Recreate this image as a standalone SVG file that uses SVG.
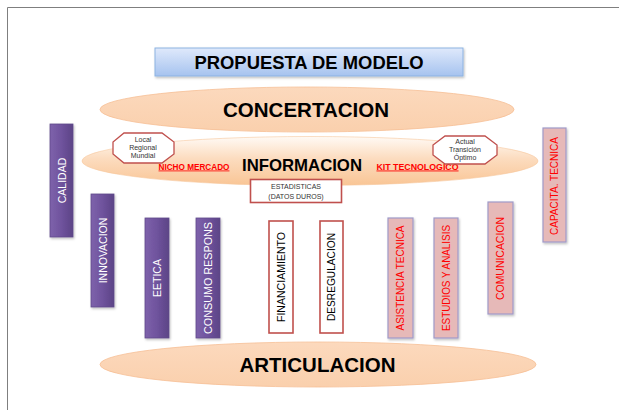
<svg xmlns="http://www.w3.org/2000/svg" width="619" height="410" viewBox="0 0 619 410">
  <defs>
    <linearGradient id="gTitle" x1="0" y1="0" x2="0" y2="1">
      <stop offset="0" stop-color="#dfe9fb"/>
      <stop offset="1" stop-color="#a6c3ef"/>
    </linearGradient>
    <linearGradient id="gPeach" x1="0" y1="0" x2="0" y2="1">
      <stop offset="0" stop-color="#fcd9bd"/>
      <stop offset="1" stop-color="#fad0ad"/>
    </linearGradient>
    <linearGradient id="gInfo" x1="0" y1="0" x2="0" y2="1">
      <stop offset="0" stop-color="#fffaf5"/>
      <stop offset="0.45" stop-color="#fcdcbf"/>
      <stop offset="1" stop-color="#f9c595"/>
    </linearGradient>
    <linearGradient id="gPurple" x1="0" y1="0" x2="1" y2="0">
      <stop offset="0" stop-color="#7e62ab"/>
      <stop offset="0.5" stop-color="#6f539d"/>
      <stop offset="1" stop-color="#5c4486"/>
    </linearGradient>
    <filter id="sh" x="-20%" y="-20%" width="140%" height="140%">
      <feDropShadow dx="1" dy="1.5" stdDeviation="1" flood-color="#000" flood-opacity="0.25"/>
    </filter>
  </defs>
  <style>
    .big { font-family: "Liberation Sans", Arial, sans-serif; font-weight: bold; fill: #000; text-anchor: middle; }
    .purple rect { fill: url(#gPurple); stroke: #5f4a8b; stroke-width: 0.8; filter: url(#sh); }
    .purple text { font-family: "Liberation Sans", Arial, sans-serif; font-size: 10.5px; fill: #ffffff; text-anchor: middle; }
    .white rect { fill: #ffffff; stroke: #c0504d; stroke-width: 1.6; }
    .white text { font-family: "Liberation Sans", Arial, sans-serif; font-size: 10.5px; fill: #000; text-anchor: middle; }
    .pink rect { fill: #e6b9b8; stroke: #a09ac8; stroke-width: 1.2; filter: url(#sh); }
    .pink text { font-family: "Liberation Sans", Arial, sans-serif; font-size: 10px; fill: #ff0000; text-anchor: middle; }
    .oct polygon { fill: #ffffff; stroke: #c0504d; stroke-width: 1.3; }
    .oct text { font-family: "Liberation Sans", Arial, sans-serif; font-size: 7px; fill: #333; text-anchor: middle; }
    .red { font-family: "Liberation Sans", Arial, sans-serif; font-weight: bold; fill: #ff0000; text-decoration: underline; text-anchor: middle; }
    .small { font-family: "Liberation Sans", Arial, sans-serif; font-size: 7px; fill: #333; text-anchor: middle; }
  </style>

  <rect x="0" y="0" width="619" height="410" fill="#ffffff"/>
  <!-- slide frame -->
  <path d="M7.5 410 V7.5 H619" fill="none" stroke="#7f7f7f" stroke-width="1"/>

  <g id="connectors"></g>

  <g id="title">
    <rect x="155" y="48" width="308" height="28" fill="url(#gTitle)" stroke="#8db3e2" stroke-width="1" filter="url(#sh)"/>
    <text class="big" x="309" y="68.5" font-size="17.5" textLength="229" lengthAdjust="spacingAndGlyphs">PROPUESTA DE MODELO</text>
  </g>

  <g id="concertacion">
    <ellipse cx="307" cy="109.5" rx="207" ry="22.5" fill="url(#gPeach)" stroke="#f6bf95" stroke-width="0.8"/>
    <text class="big" x="306" y="117" font-size="20.5">CONCERTACION</text>
  </g>

  <g id="informacion">
    <ellipse cx="310" cy="161" rx="228" ry="24.5" fill="url(#gInfo)" stroke="#f7c79e" stroke-width="0.6"/>
    <text class="big" x="302" y="170.5" font-size="16.5" textLength="120" lengthAdjust="spacingAndGlyphs">INFORMACION</text>
  </g>

  <g id="nicho-mercado">
    <text class="red" x="194" y="169.5" font-size="8.2">NICHO MERCADO</text>
  </g>
  <g id="kit-tecnologico">
    <text class="red" x="417.5" y="169.5" font-size="8.8">KIT TECNOLOGICO</text>
  </g>

  <g id="oct-local" class="oct">
    <polygon points="124,133 162,133 174,142 174,154 162,163 124,163 113,154 113,142"/>
    <text x="143" y="141.5">Local</text>
    <text x="143" y="149.5">Regional</text>
    <text x="143" y="157.5">Mundial</text>
  </g>

  <g id="oct-actual" class="oct">
    <polygon points="445,136 485,136 497,145 497,155 485,164 445,164 433,155 433,145"/>
    <text x="465" y="144">Actual</text>
    <text x="465" y="152">Transición</text>
    <text x="465" y="160">Óptimo</text>
  </g>

  <g id="estadisticas">
    <rect x="250.5" y="179.5" width="91" height="23" fill="#ffffff" stroke="#c0504d" stroke-width="1.6"/>
    <text class="small" x="296" y="189">ESTADISTICAS</text>
    <text class="small" x="296" y="198.5">(DATOS DUROS)</text>
  </g>

  <g id="calidad" class="purple">
    <rect x="50" y="124" width="23" height="113"/>
    <text transform="translate(65.5 180.5) rotate(-90)">CALIDAD</text>
  </g>
  <g id="innovacion" class="purple">
    <rect x="91" y="194" width="23" height="113"/>
    <text transform="translate(106.5 250.5) rotate(-90)">INNOVACION</text>
  </g>
  <g id="eetica" class="purple">
    <rect x="145" y="218" width="24" height="120"/>
    <text transform="translate(160.5 278) rotate(-90)">EETICA</text>
  </g>
  <g id="consumo-respons" class="purple">
    <rect x="196" y="218" width="24" height="120"/>
    <text transform="translate(211.5 278) rotate(-90)" textLength="112" lengthAdjust="spacingAndGlyphs">CONSUMO RESPONS</text>
  </g>

  <g id="financiamiento" class="white">
    <rect x="269" y="221" width="24" height="112"/>
    <text transform="translate(284.5 277) rotate(-90)" textLength="90" lengthAdjust="spacingAndGlyphs">FINANCIAMIENTO</text>
  </g>
  <g id="desregulacion" class="white">
    <rect x="320" y="221" width="23" height="112"/>
    <text transform="translate(335 277) rotate(-90)" textLength="88" lengthAdjust="spacingAndGlyphs">DESREGULACION</text>
  </g>

  <g id="asistencia-tecnica" class="pink">
    <rect x="388" y="218" width="25" height="120"/>
    <text transform="translate(404 278) rotate(-90)" textLength="105" lengthAdjust="spacingAndGlyphs">ASISTENCIA TECNICA</text>
  </g>
  <g id="estudios-analisis" class="pink">
    <rect x="434" y="218" width="24" height="120"/>
    <text transform="translate(449.5 278) rotate(-90)" textLength="106" lengthAdjust="spacingAndGlyphs">ESTUDIOS Y ANALISIS</text>
  </g>
  <g id="comunicacion" class="pink">
    <rect x="488" y="202" width="25" height="112"/>
    <text transform="translate(504 258.5) rotate(-90)" textLength="83" lengthAdjust="spacingAndGlyphs">COMUNICACION</text>
  </g>
  <g id="capacita-tecnica" class="pink">
    <rect x="543" y="128" width="23" height="114"/>
    <text transform="translate(558 186) rotate(-90)" textLength="98" lengthAdjust="spacingAndGlyphs">CAPACITA. TECNICA</text>
  </g>

  <g id="articulacion">
    <ellipse cx="318" cy="364.5" rx="218" ry="22.5" fill="url(#gPeach)" stroke="#f6bf95" stroke-width="0.8"/>
    <text class="big" x="317.5" y="372" font-size="20.5">ARTICULACION</text>
  </g>
</svg>
